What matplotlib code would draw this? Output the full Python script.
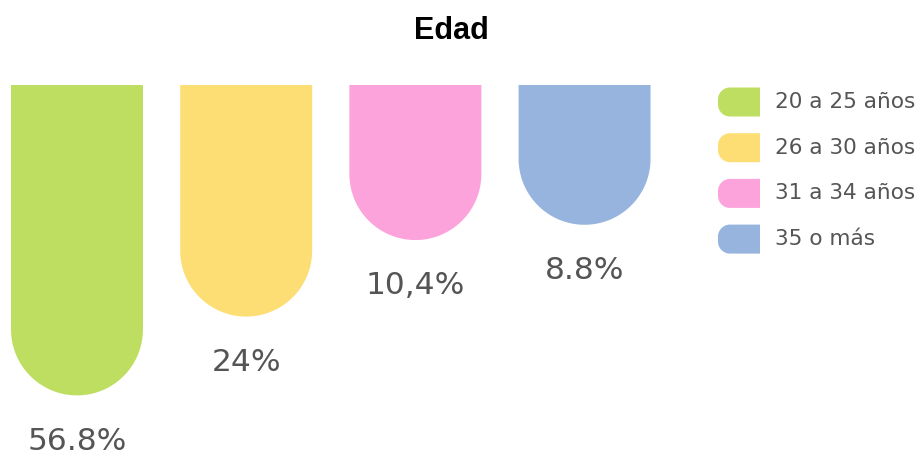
import numpy as np
import matplotlib
matplotlib.use("Agg")
import matplotlib.pyplot as plt
from matplotlib.patches import Polygon

# ---- data ----
categories = ["20 a 25 años", "26 a 30 años", "31 a 34 años", "35 o más"]
values = [56.8, 24.0, 10.4, 8.8]
value_labels = ["56.8%", "24%", "10,4%", "8.8%"]
colors = ["#BEDE62", "#FDDE74", "#FDA3DC", "#96B4DE"]
title = "Edad"

W, H = 922, 457
fig = plt.figure(figsize=(W / 100, H / 100), dpi=100)

ax = fig.add_axes([0, 0, 680 / W, (H - 85) / H])
ax.set_xlim(-0.455, 3.564)
y_top = np.log(1.91)
ax.set_ylim(y_top + (H - 85) / 91.5, y_top)  # inverted
ax.axis("off")

fig.canvas.draw()
p0 = ax.transData.transform((0, y_top))
p1 = ax.transData.transform((1, y_top + 1))
aspect = abs(p1[0] - p0[0]) / abs(p1[1] - p0[1])

bw = 0.78
r = bw / 2
ry = r * aspect
label_font = dict(family=["DejaVu Sans"], color="#555555")
t = np.linspace(0, np.pi, 60)
for i, (v, c, lab) in enumerate(zip(values, colors, value_labels)):
    depth = np.log(v)
    yc = depth - ry
    xs = np.concatenate([[i - r], i - r * np.cos(t), [i + r]])
    ys = np.concatenate([[y_top - 0.1], yc + ry * np.sin(t), [y_top - 0.1]])
    ax.add_patch(Polygon(np.column_stack([xs, ys]), closed=True,
                         facecolor=c, edgecolor="none"))
    ax.annotate(lab, (i, depth), xytext=(0, -33), textcoords="offset points",
                ha="center", va="center", fontsize=22.5, **label_font)

# legend (overlay axes in pixel units)
lax = fig.add_axes([0, 0, 1, 1])
lax.set_xlim(0, W)
lax.set_ylim(H, 0)
lax.axis("off")
ta = np.linspace(np.pi / 2, 3 * np.pi / 2, 40)
for k, (cat, c) in enumerate(zip(categories, colors)):
    yc = 102 + 45.7 * k
    x0, w, h = 718, 42, 29
    rr = 12
    # left side rounded, right side square
    top_arc = np.linspace(np.pi / 2, np.pi, 20)
    bot_arc = np.linspace(np.pi, 3 * np.pi / 2, 20)
    xs = np.concatenate([[x0 + w],
                         x0 + rr + rr * np.cos(top_arc),
                         x0 + rr + rr * np.cos(bot_arc),
                         [x0 + w]])
    ys = np.concatenate([[yc - h / 2],
                         yc - h / 2 + rr - rr * np.sin(top_arc),
                         yc + h / 2 - rr - rr * np.sin(bot_arc),
                         [yc + h / 2]])
    lax.add_patch(Polygon(np.column_stack([xs, ys]), closed=True,
                          facecolor=c, edgecolor="none"))
    lax.text(775, yc, cat, ha="left", va="center", fontsize=15.6, **label_font)

fig.text(451 / W, 1 - 31 / H, title, ha="center", va="center", fontsize=22,
         fontweight="bold", family=["Liberation Sans", "DejaVu Sans"])

fig.savefig("out.png", dpi=100)
